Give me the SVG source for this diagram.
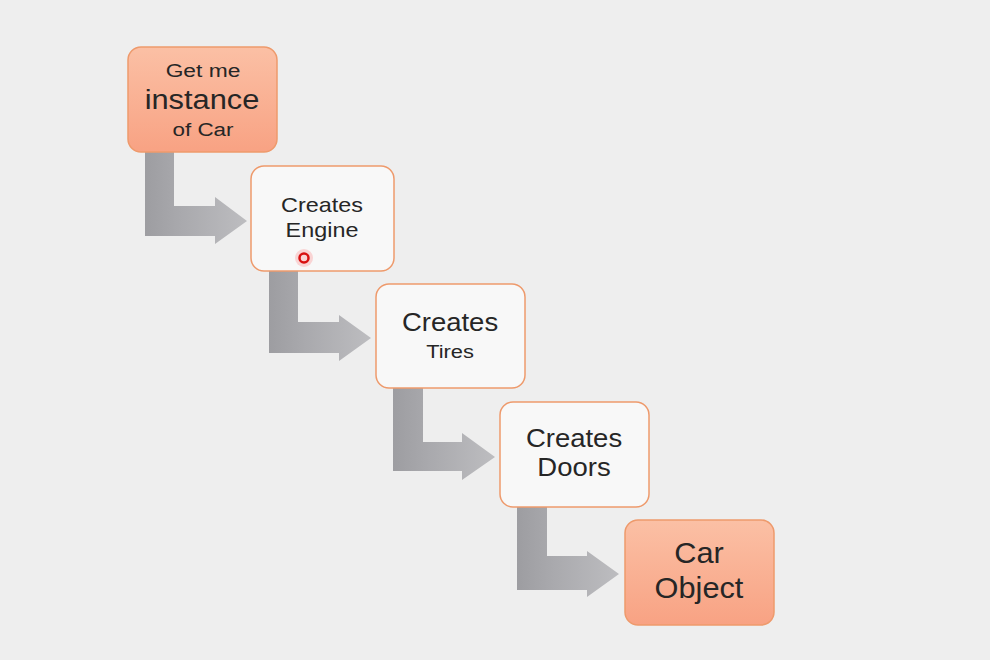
<svg xmlns="http://www.w3.org/2000/svg" width="990" height="660" viewBox="0 0 990 660">
<defs>
<style>
.box{stroke:#ee9a6c;stroke-width:1.5}
.hot{fill:url(#og)}
.cold{fill:#f8f8f8}
.t{font-family:"Liberation Sans",Arial,sans-serif;fill:#262626;text-anchor:middle}
.arr{fill:url(#ag)}
</style>
<linearGradient id="og" x1="0" y1="0" x2="0" y2="1">
<stop offset="0" stop-color="#fbc0a5"/>
<stop offset="1" stop-color="#f8a283"/>
</linearGradient>
<linearGradient id="ag" x1="0" y1="0" x2="1" y2="0">
<stop offset="0" stop-color="#9d9da1"/>
<stop offset="0.35" stop-color="#a9a9ad"/>
<stop offset="1" stop-color="#bdbdc0"/>
</linearGradient>
</defs>
<rect width="990" height="660" fill="#eeeeee"/>
<g id="connectors">
<path class="arr" d="M145,152 H174 V206 H215 V197 L247,221 L215,244 V236 H145 Z"/>
<path class="arr" d="M269,271 H298 V322 H339 V315 L371,338 L339,361 V353 H269 Z"/>
<path class="arr" d="M393,388 H423 V442 H462 V433 L495,457 L462,480 V471 H393 Z"/>
<path class="arr" d="M517,507 H547 V556 H587 V551 L619,574 L587,597 V590 H517 Z"/>
</g>
<g id="n1">
<rect class="box hot" x="128" y="47" width="149" height="105" rx="13"/>
<text class="t" transform="matrix(1.2 0 0 1 203 77)" font-size="19">Get me</text>
<text class="t" transform="matrix(1.1 0 0 1 202 109)" font-size="28">instance</text>
<text class="t" transform="matrix(1.18 0 0 1 203 136)" font-size="19">of Car</text>
</g>
<g id="n2">
<rect class="box cold" x="251" y="166" width="143" height="105" rx="13"/>
<text class="t" transform="matrix(1.17 0 0 1 322 212)" font-size="20">Creates</text>
<text class="t" transform="matrix(1.17 0 0 1 322 237)" font-size="20">Engine</text>
</g>
<g id="n3">
<rect class="box cold" x="376" y="284" width="149" height="104" rx="13"/>
<text class="t" transform="matrix(1.1 0 0 1 450 331)" font-size="25">Creates</text>
<text class="t" transform="matrix(1.15 0 0 1 450 358)" font-size="19">Tires</text>
</g>
<g id="n4">
<rect class="box cold" x="500" y="402" width="149" height="105" rx="13"/>
<text class="t" transform="matrix(1.1 0 0 1 574 447)" font-size="25">Creates</text>
<text class="t" transform="matrix(1.1 0 0 1 574 476)" font-size="25">Doors</text>
</g>
<g id="n5">
<rect class="box hot" x="625" y="520" width="149" height="105" rx="13"/>
<text class="t" transform="matrix(1.06 0 0 1 699 563)" font-size="29">Car</text>
<text class="t" transform="matrix(1.06 0 0 1 699 598)" font-size="29">Object</text>
</g>
<g id="pointer">
<circle cx="304" cy="258" r="9" fill="#ff3030" opacity="0.18"/>
<circle cx="304" cy="258" r="4.5" fill="none" stroke="#d81010" stroke-width="2.5"/>
</g>
</svg>
